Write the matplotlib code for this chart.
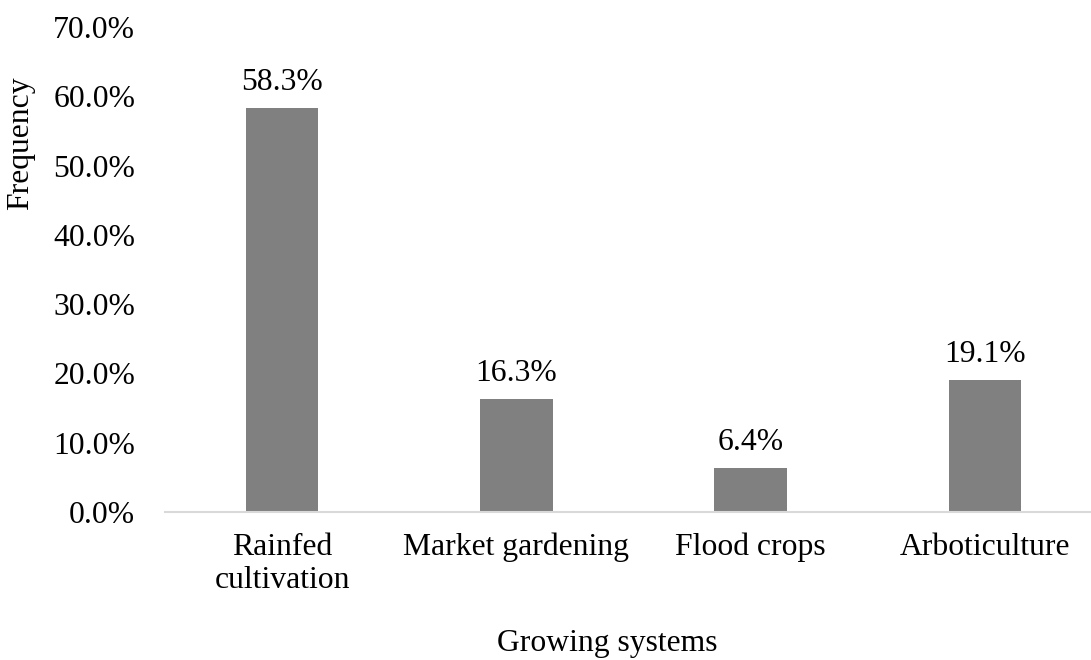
import matplotlib
matplotlib.use("Agg")
import matplotlib.pyplot as plt
from matplotlib.ticker import FuncFormatter, MultipleLocator

categories = ["Rainfed\ncultivation", "Market gardening", "Flood crops", "Arboticulture"]
values = [58.3, 16.3, 6.4, 19.1]
value_labels = ["58.3%", "16.3%", "6.4%", "19.1%"]

plt.rcParams['font.family'] = ['Liberation Serif', 'DejaVu Serif']
FS = 22.8

W, H = 1091, 660
fig = plt.figure(figsize=(W / 100, H / 100), dpi=100)
left_px, right_px, bottom_px, top_px = 165, 1102, 512, 27
ax = fig.add_axes([left_px / W, (H - bottom_px) / H,
                   (right_px - left_px) / W, (bottom_px - top_px) / H])

x = list(range(len(categories)))
bars = ax.bar(x, values, width=0.31, color="#808080", zorder=2)
ax.set_xlim(-0.5, len(categories) - 0.5)
ax.set_ylim(0, 70)
ax.yaxis.set_major_locator(MultipleLocator(10))
ax.yaxis.set_major_formatter(FuncFormatter(lambda v, p: f"{v:.1f}%"))

for rect, lab in zip(bars, value_labels):
    ax.annotate(lab, (rect.get_x() + rect.get_width() / 2, rect.get_height()),
                xytext=(0, 8), textcoords="offset points",
                ha="center", va="bottom", fontsize=FS, color="#000000")

ax.set_xticks(x)
ax.set_xticklabels(categories, fontsize=FS, linespacing=1.2)
ax.tick_params(axis='x', length=0, pad=15)
ax.tick_params(axis='y', length=0, pad=21.5, labelsize=FS)

for s in ["top", "right", "left"]:
    ax.spines[s].set_visible(False)
ax.spines["bottom"].set_color("#d9d9d9")
ax.spines["bottom"].set_linewidth(1.5)

fig.text(607 / W, 1 - 644 / H, "Growing systems", ha="center", va="center", fontsize=FS)
fig.text(21 / W, 1 - 143 / H, "Frequency", ha="center", va="center",
         rotation=90, fontsize=FS)

fig.savefig("out.png", dpi=100)
